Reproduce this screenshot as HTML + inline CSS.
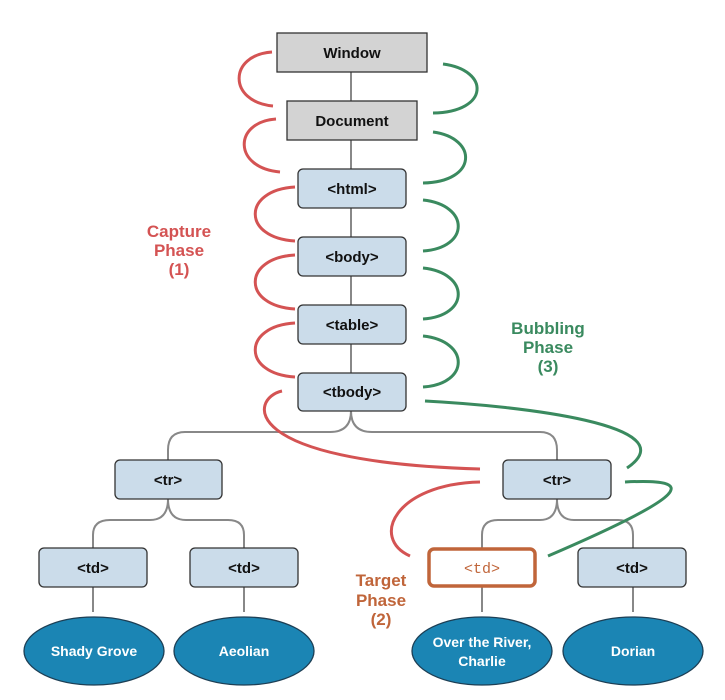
<!DOCTYPE html>
<html><head><meta charset="utf-8"><style>
body{margin:0;background:#fff;}
svg{display:block;font-family:"Liberation Sans",sans-serif;}
.b{fill:#cbdcea;stroke:#333;stroke-width:1.3;}
.g{fill:#d3d3d3;stroke:#333;stroke-width:1.3;}
.t{font-weight:bold;font-size:15px;fill:#111;text-anchor:middle;}
.c{fill:none;stroke:#888;stroke-width:2;}
.r{fill:none;stroke:#d45353;stroke-width:3;}
.gr{fill:none;stroke:#3a8a5f;stroke-width:3;}
.e{fill:#1b85b4;stroke:#1d3f55;stroke-width:1.3;}
.et{font-weight:bold;font-size:14px;fill:#fff;text-anchor:middle;}
</style></head><body>
<svg width="725" height="700" viewBox="0 0 725 700">
<!-- vertical connectors -->
<path class="c" d="M351 72V101M351 140V169M351 208V237M351 276V305M351 344V373"/>
<path class="c" d="M351 411 Q351 432 330 432 H185 Q168 432 168 450 V460"/>
<path class="c" d="M351 411 Q351 432 372 432 H540 Q557 432 557 450 V460"/>
<path class="c" d="M168 499 Q168 520 150 520 H110 Q93 520 93 535 V548"/>
<path class="c" d="M168 499 Q168 520 186 520 H228 Q244 520 244 535 V548"/>
<path class="c" d="M557 499 Q557 520 540 520 H498 Q482 520 482 535 V548"/>
<path class="c" d="M557 499 Q557 520 574 520 H618 Q633 520 633 535 V548"/>
<path class="c" d="M93 587V612M244 587V612M482 587V612M633 587V612"/>
<!-- red capture arcs -->
<path class="r" d="M272 52 C228 55 228 102 273 106"/>
<path class="r" d="M276 119 C233 122 233 168 280 172"/>
<path class="r" d="M295 187 C242 190 242 238 295 241"/>
<path class="r" d="M295 255 C242 258 242 306 295 309"/>
<path class="r" d="M295 323 C242 326 242 374 295 377"/>
<path class="r" d="M282 391 C250 398 235 462 480 469"/>
<path class="r" d="M480 482 C395 484 370 538 410 556"/>
<!-- green bubbling arcs -->
<path class="gr" d="M443 64 C490 70 490 112 433 113"/>
<path class="gr" d="M433 132 C478 138 478 182 423 183"/>
<path class="gr" d="M423 200 C470 205 470 248 423 251"/>
<path class="gr" d="M423 268 C470 273 470 316 423 319"/>
<path class="gr" d="M423 336 C470 341 470 384 423 387"/>
<path class="gr" d="M425 401 C520 406 690 425 627 468"/>
<path class="gr" d="M625 482 C700 478 690 495 548 556"/>
<!-- boxes -->
<rect class="g" x="277" y="33" width="150" height="39"/>
<text class="t" x="352" y="58">Window</text>
<rect class="g" x="287" y="101" width="130" height="39"/>
<text class="t" x="352" y="126">Document</text>
<rect class="b" x="298" y="169" width="108" height="39" rx="5"/>
<text class="t" x="352" y="194">&lt;html&gt;</text>
<rect class="b" x="298" y="237" width="108" height="39" rx="5"/>
<text class="t" x="352" y="262">&lt;body&gt;</text>
<rect class="b" x="298" y="305" width="108" height="39" rx="5"/>
<text class="t" x="352" y="330">&lt;table&gt;</text>
<rect class="b" x="298" y="373" width="108" height="38" rx="5"/>
<text class="t" x="352" y="397">&lt;tbody&gt;</text>
<rect class="b" x="115" y="460" width="107" height="39" rx="5"/>
<text class="t" x="168" y="485">&lt;tr&gt;</text>
<rect class="b" x="503" y="460" width="108" height="39" rx="5"/>
<text class="t" x="557" y="485">&lt;tr&gt;</text>
<rect class="b" x="39" y="548" width="108" height="39" rx="5"/>
<text class="t" x="93" y="573">&lt;td&gt;</text>
<rect class="b" x="190" y="548" width="108" height="39" rx="5"/>
<text class="t" x="244" y="573">&lt;td&gt;</text>
<rect x="429" y="549" width="106" height="37" rx="5" fill="#fff" stroke="#c0653a" stroke-width="3.5"/>
<text x="482" y="573" text-anchor="middle" font-family="Liberation Mono,monospace" font-size="15" fill="#c0653a">&lt;td&gt;</text>
<rect class="b" x="578" y="548" width="108" height="39" rx="5"/>
<text class="t" x="632" y="573">&lt;td&gt;</text>
<!-- ellipses -->
<ellipse class="e" cx="94" cy="651" rx="70" ry="34"/>
<text class="et" x="94" y="656">Shady Grove</text>
<ellipse class="e" cx="244" cy="651" rx="70" ry="34"/>
<text class="et" x="244" y="656">Aeolian</text>
<ellipse class="e" cx="482" cy="651" rx="70" ry="34"/>
<text class="et" x="482" y="647">Over the River,</text>
<text class="et" x="482" y="666">Charlie</text>
<ellipse class="e" cx="633" cy="651" rx="70" ry="34"/>
<text class="et" x="633" y="656">Dorian</text>
<!-- labels -->
<g font-weight="bold" font-size="17" text-anchor="middle">
<text x="179" y="237" fill="#d45353">Capture</text>
<text x="179" y="256" fill="#d45353">Phase</text>
<text x="179" y="275" fill="#d45353">(1)</text>
<text x="548" y="334" fill="#3a8a5f">Bubbling</text>
<text x="548" y="353" fill="#3a8a5f">Phase</text>
<text x="548" y="372" fill="#3a8a5f">(3)</text>
<text x="381" y="586" fill="#c0653a">Target</text>
<text x="381" y="606" fill="#c0653a">Phase</text>
<text x="381" y="625" fill="#c0653a">(2)</text>
</g>
</svg>
</body></html>
